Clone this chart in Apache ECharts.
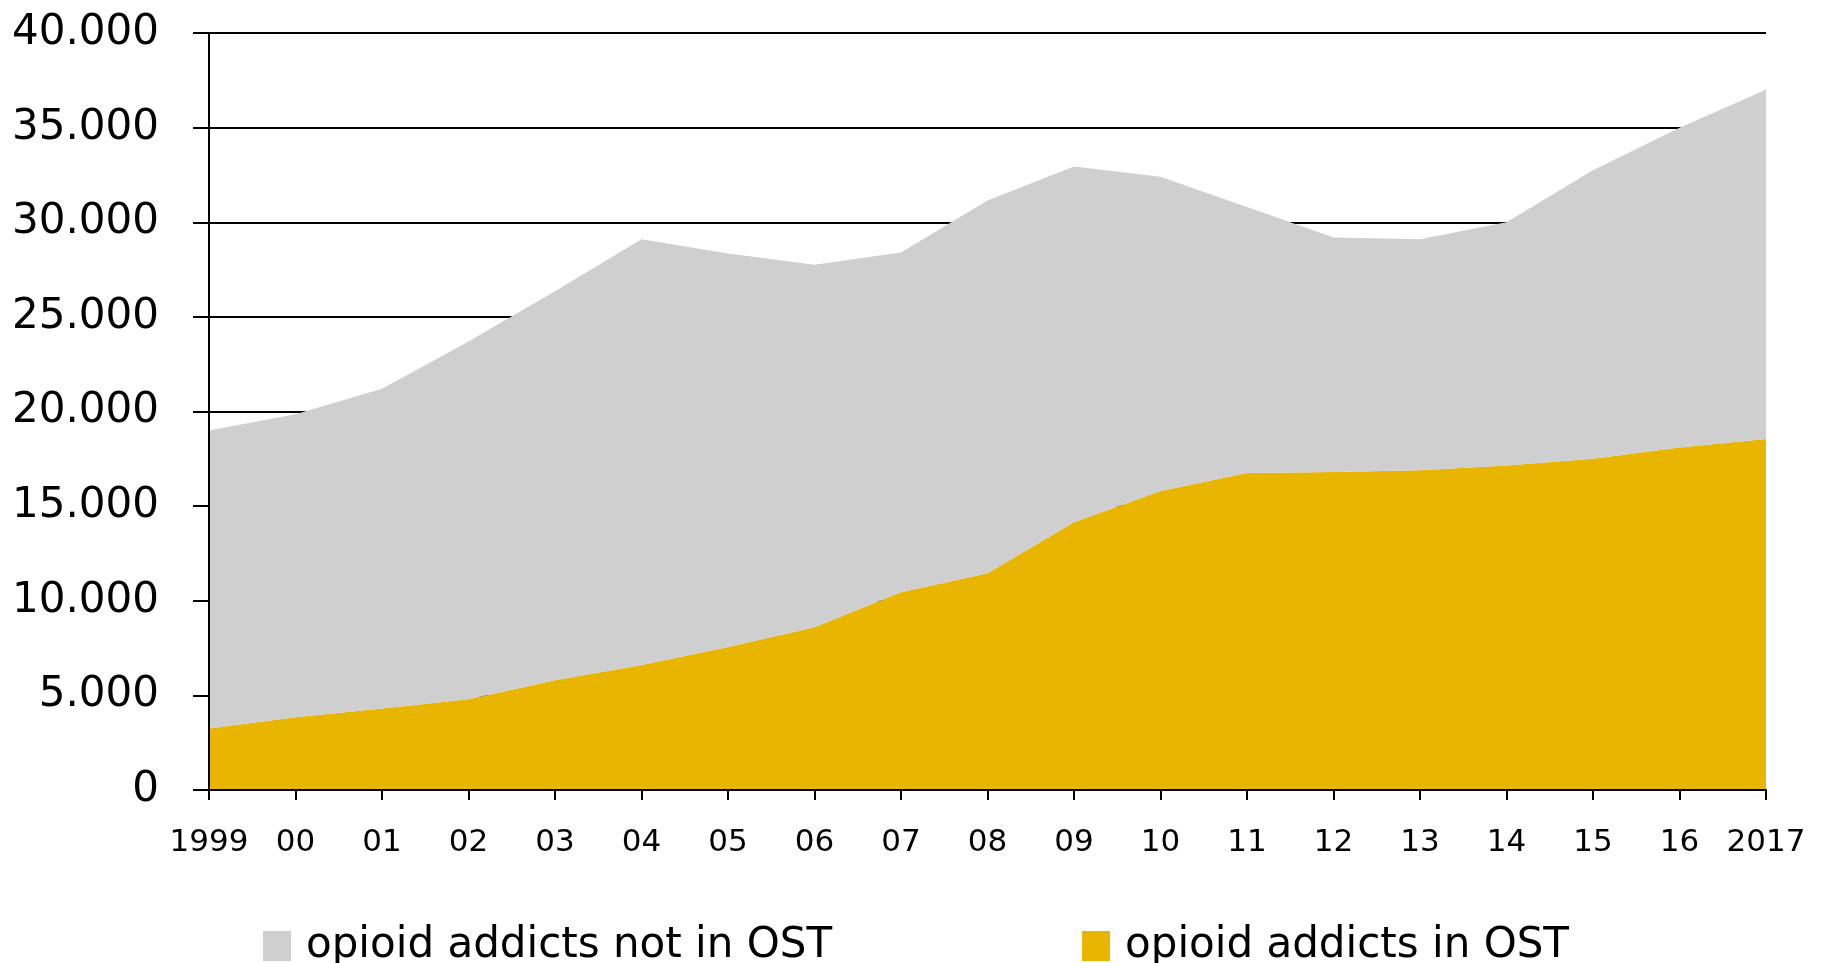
<!DOCTYPE html>
<html>
<head>
<meta charset="utf-8">
<script src="https://cdn.jsdelivr.net/npm/echarts@6/dist/echarts.min.js"></script>
<style>
html,body{margin:0;padding:0;background:#fff;}
#chart{width:1825px;height:963px;}
</style>
</head>
<body>
<div id="chart"></div>
<script>
// Data
const years = ['1999','00','01','02','03','04','05','06','07','08','09','10','11','12','13','14','15','16','2017'];
const inOST = [3250, 3850, 4300, 4800, 5800, 6600, 7550, 8600, 10450, 11450, 14150, 15800, 16750, 16800, 16900, 17150, 17500, 18100, 18550];
const notInOST = [15750, 16000, 16900, 18900, 20550, 22500, 20800, 19150, 17950, 19700, 18800, 16600, 14050, 12400, 12200, 12850, 15250, 16900, 18450];
const seriesNames = ['opioid addicts in OST', 'opioid addicts not in OST'];
const yMin = 0, yMax = 40000, yStep = 5000;

const FONT = 'DejaVu Sans';
const chart = echarts.init(document.getElementById('chart'), null, {renderer: 'canvas'});
const fmt = v => v === 0 ? '0' : String(v).replace(/\B(?=(\d{3})+(?!\d))/g, '.');

chart.setOption({
  animation: false,
  backgroundColor: '#ffffff',
  grid: {left: 209, right: 59, top: 33, bottom: 173, outerBoundsMode: 'none', containLabel: false},
  legend: {
    data: [seriesNames[1], seriesNames[0]],
    left: 263,
    top: 916,
    padding: 0,
    itemWidth: 28,
    itemHeight: 30,
    itemGap: 250,
    icon: 'rect',
    textStyle: {fontFamily: FONT, fontSize: 42, color: '#000', lineHeight: 42, padding: [0, 0, 18, 10]}
  },
  xAxis: {
    type: 'category',
    data: years,
    boundaryGap: false,
    z: 5,
    axisLine: {show: true, lineStyle: {color: '#000', width: 2}},
    axisTick: {show: true, length: 10, lineStyle: {color: '#000', width: 2}},
    axisLabel: {fontFamily: FONT, fontSize: 31, color: '#000', margin: 37, interval: 0},
    splitLine: {show: false}
  },
  yAxis: [{
    type: 'value',
    min: yMin, max: yMax, interval: yStep,
    z: 5,
    axisLine: {show: true, lineStyle: {color: '#000', width: 2}},
    axisTick: {show: true, length: 16, lineStyle: {color: '#000', width: 2}},
    axisLabel: {fontFamily: FONT, fontSize: 42, color: '#000', margin: 50, formatter: fmt, padding: [0, 0, 24, 0]},
    splitLine: {show: false}
  }, {
    type: 'value',
    min: yMin, max: yMax, interval: yStep,
    position: 'left',
    z: 0,
    axisLine: {show: false},
    axisTick: {show: false},
    axisLabel: {show: false},
    splitLine: {show: true, lineStyle: {color: '#000', width: 2}}
  }],
  series: [{
    name: seriesNames[0],
    type: 'line',
    stack: 'total',
    data: inOST,
    symbol: 'none',
    lineStyle: {width: 0},
    itemStyle: {color: '#E8B600'},
    areaStyle: {color: '#E8B600', opacity: 1}
  }, {
    name: seriesNames[1],
    type: 'line',
    stack: 'total',
    data: notInOST,
    symbol: 'none',
    lineStyle: {width: 0},
    itemStyle: {color: '#CFCFCF'},
    areaStyle: {color: '#CFCFCF', opacity: 1}
  }]
});
</script>
</body>
</html>
